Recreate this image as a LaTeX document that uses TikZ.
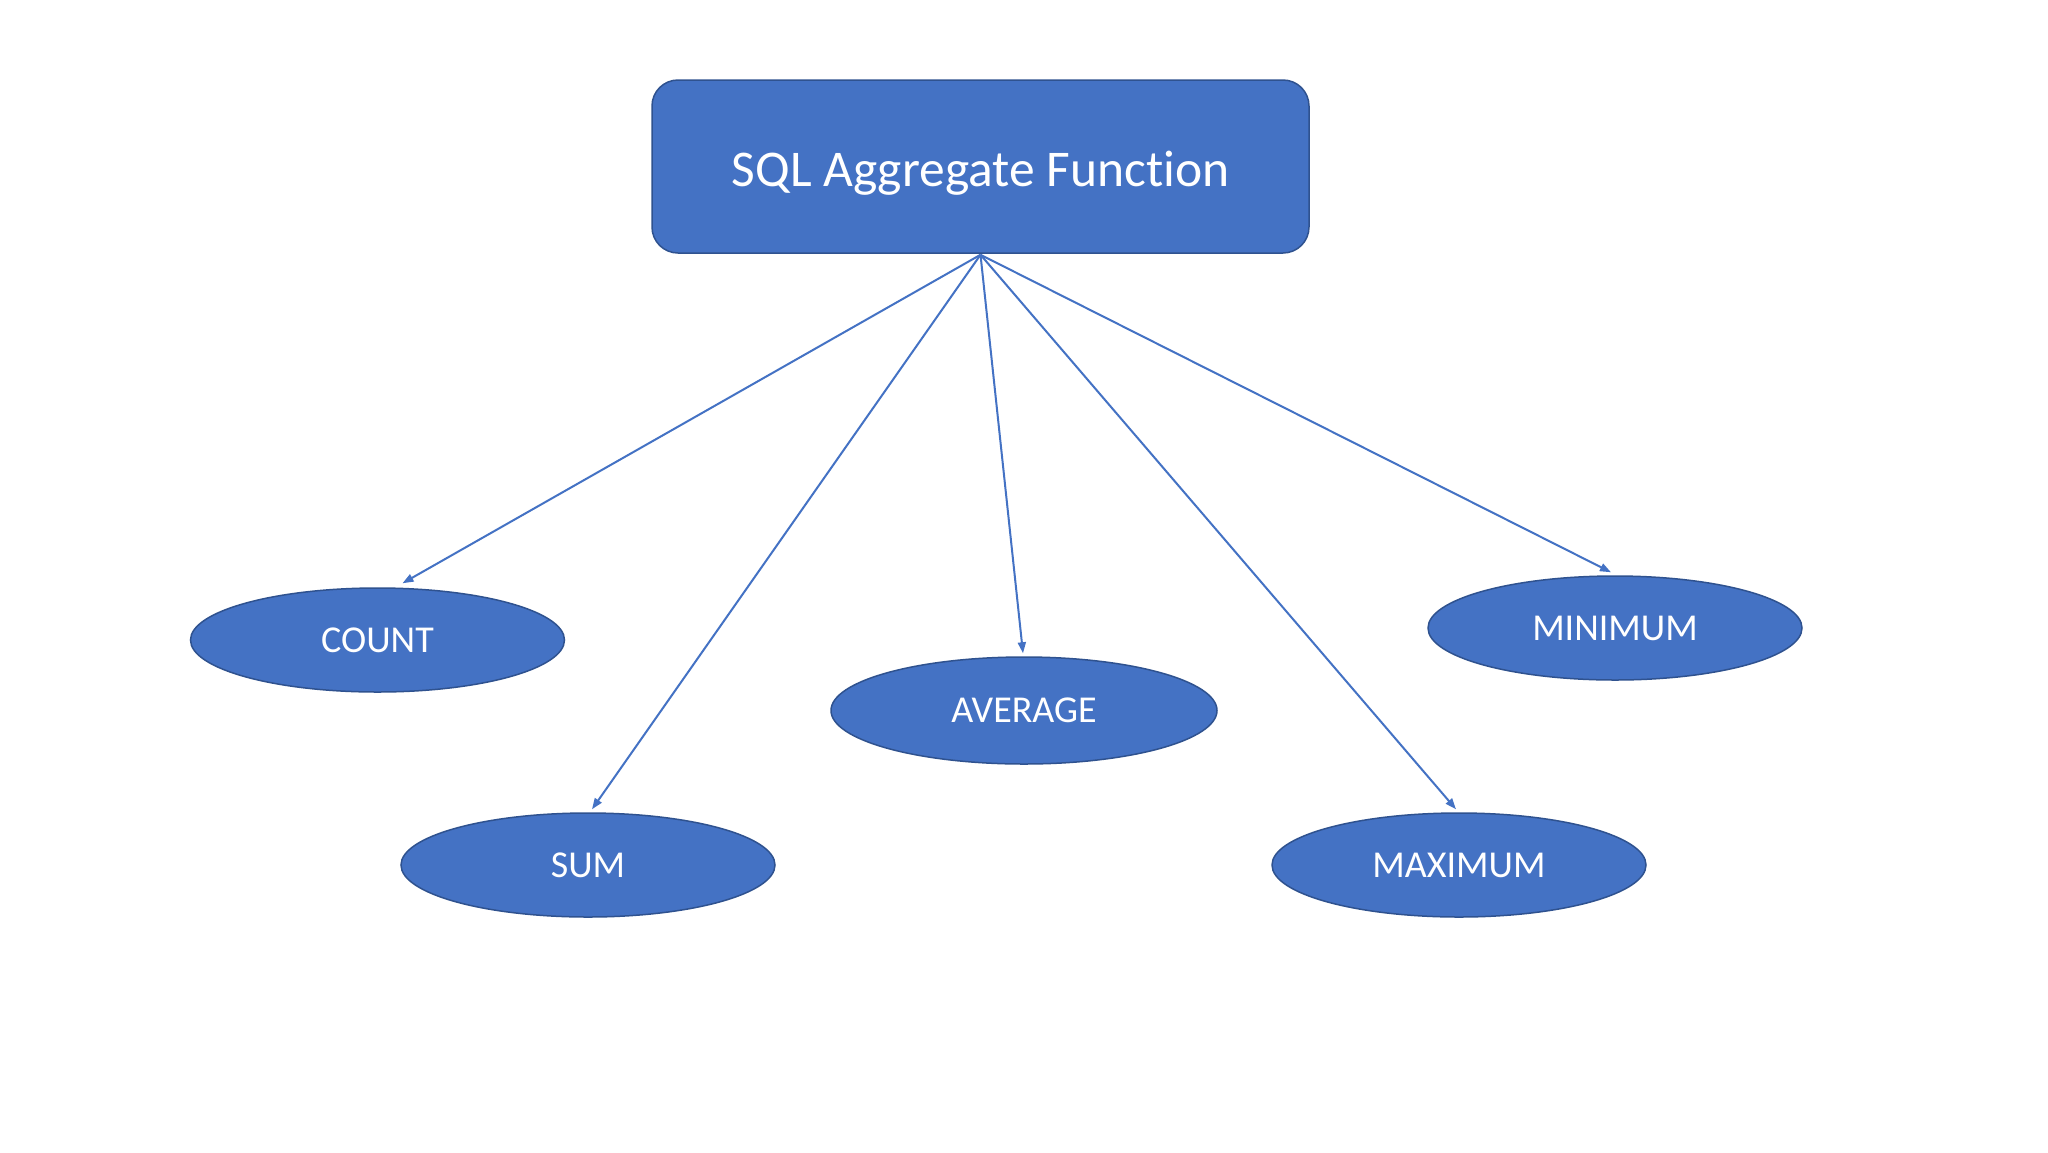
\documentclass[tikz,border=0pt]{standalone}
\usepackage{fontspec}
\setmainfont{Carlito}[RawFeature=-liga]
\usetikzlibrary{shapes.geometric,arrows.meta,calc}
\definecolor{fillblue}{HTML}{4472C4}
\definecolor{edgeblue}{HTML}{2F528F}
\begin{document}
\begin{tikzpicture}[x=1pt,y=-1pt,
  topbox/.style={draw=edgeblue,line width=1.5pt,fill=fillblue,rounded corners=26pt,
    minimum width=657pt,minimum height=173pt,text=white,font=\fontsize{51.5}{56}\selectfont,
    inner sep=0pt,text height=33pt,text depth=0pt},
  fn/.style={ellipse,draw=edgeblue,line width=1.5pt,fill=fillblue,minimum width=374pt,minimum height=104pt,
    text=white,font=\fontsize{38}{42}\selectfont,inner sep=0pt},
  arr/.style={draw=fillblue,line width=2pt,-{Triangle[length=11pt,width=8pt]}}]
\useasboundingbox[fill=white] (0,0) rectangle (2048,1152);
\node[topbox] (top) at (980.5,166.5) {\raisebox{-3pt}{SQL Aggregate Func\kern0pt tion}};
\node[fn] (count) at (377.5,640) {COUNT};
\node[fn] (sum) at (588,865) {SUM};
\node[fn,minimum width=386pt,minimum height=107pt] (avg) at (1024,710.5) {AVERAGE};
\node[fn] (min) at (1615,628) {MINIMUM};
\node[fn] (max) at (1459,865) {MAXIMUM};
\coordinate (src) at ($(top.south)+(0,1)$);
\draw[arr] (src) -- ([xshift=25pt,yshift=4pt]count.north);
\draw[arr] (src) -- ([xshift=4pt,yshift=3pt]sum.north);
\draw[arr] (src) -- ([xshift=-1pt,yshift=3pt]avg.north);
\draw[arr] (src) -- ([xshift=-4pt,yshift=3pt]min.north);
\draw[arr] (src) -- ([xshift=-3pt,yshift=3pt]max.north);
\end{tikzpicture}
\end{document}
